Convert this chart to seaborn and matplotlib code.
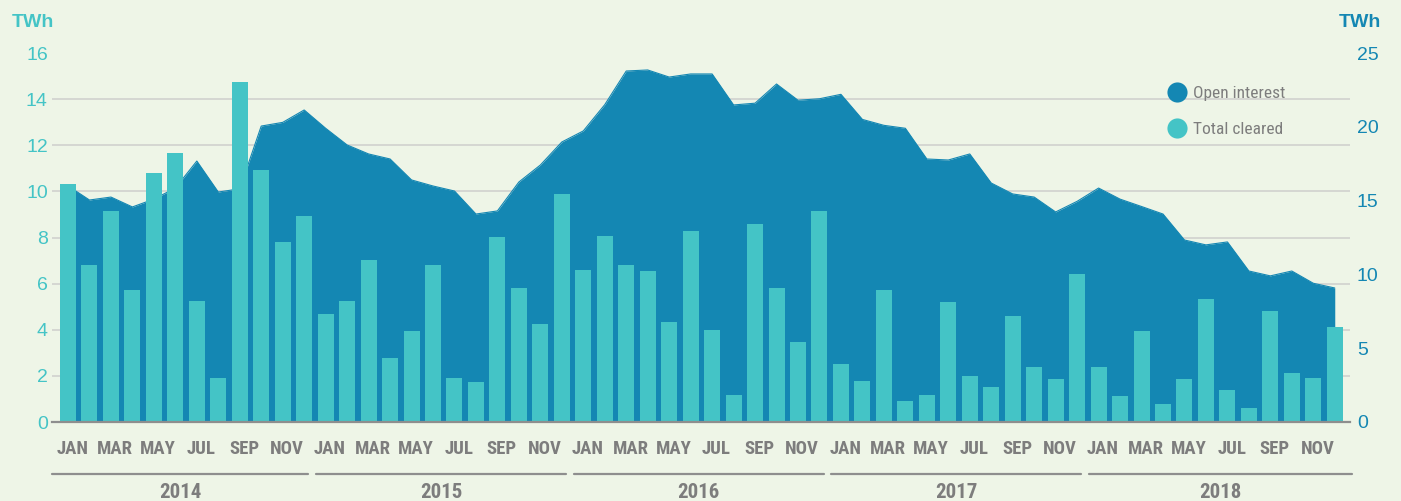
import numpy as np
import pandas as pd
import matplotlib
matplotlib.use("Agg")
import matplotlib.pyplot as plt
import seaborn as sns
from matplotlib import font_manager
from matplotlib.lines import Line2D
from matplotlib.ticker import FixedLocator

# ---- data ---------------------------------------------------------------
years = [2014, 2015, 2016, 2017, 2018]
months = ["JAN", "FEB", "MAR", "APR", "MAY", "JUN",
          "JUL", "AUG", "SEP", "OCT", "NOV", "DEC"]

# Total cleared volume per month (TWh, left axis)
cleared = [
    10.30, 6.80, 9.15, 5.72, 10.80, 11.67, 5.25, 1.91, 14.74, 10.93, 7.80, 8.93,
    4.68, 5.25, 7.03, 2.78, 3.95, 6.81, 1.91, 1.73, 8.02, 5.81, 4.25, 9.89,
    6.59, 8.07, 6.81, 6.55, 4.34, 8.28, 3.99, 1.17, 8.59, 5.81, 3.47, 9.15,
    2.52, 1.78, 5.72, 0.91, 1.17, 5.20, 1.99, 1.52, 4.60, 2.39, 1.86, 6.42,
    2.39, 1.13, 3.95, 0.78, 1.86, 5.33, 1.39, 0.61, 4.81, 2.12, 1.91, 4.12,
]

# Open interest at month end (TWh, right axis)
open_interest = [
    16.00, 15.04, 15.24, 14.57, 15.10, 15.85, 17.68, 15.58, 15.80, 20.05, 20.30, 21.14,
    19.90, 18.77, 18.16, 17.82, 16.40, 15.99, 15.65, 14.09, 14.30, 16.26, 17.41, 18.97,
    19.72, 21.50, 23.78, 23.85, 23.37, 23.58, 23.58, 21.48, 21.60, 22.90, 21.80, 21.90,
    22.20, 20.50, 20.10, 19.90, 17.82, 17.75, 18.16, 16.19, 15.45, 15.24, 14.23, 14.95,
    15.85, 15.10, 14.60, 14.09, 12.33, 12.00, 12.20, 10.23, 9.90, 10.23, 9.40, 9.08,
]

left_ticks = [0, 2, 4, 6, 8, 10, 12, 14, 16]
right_ticks = [0, 5, 10, 15, 20, 25]

# ---- style --------------------------------------------------------------
BG = "#eef5e7"
AREA = "#1487b3"
BAR = "#44c4c6"
GREY = "#7d7d7d"
GRID = "#d5d7d2"
RULE = "#8e8e8e"


def pick_font(*names):
    available = {f.name for f in font_manager.fontManager.ttflist}
    for name in names:
        if name in available:
            return name
    return "DejaVu Sans"


NARROW = pick_font("Liberation Sans Narrow", "DejaVu Sans Condensed",
                   "Roboto Condensed", "Liberation Sans")
SANS = pick_font("Liberation Sans", "DejaVu Sans")

sns.set_theme(style="white")
plt.rcParams["font.family"] = [SANS, "DejaVu Sans"]

df = pd.DataFrame({
    "idx": np.arange(len(cleared)),
    "month": months * len(years),
    "year": np.repeat(years, 12),
    "cleared": cleared,
    "open_interest": open_interest,
})

W, H = 1401, 501
fig = plt.figure(figsize=(W / 100, H / 100), dpi=100, facecolor=BG)
left_px, right_px, top_px, bottom_px = 52, 1350, 53, 422
ax_oi = fig.add_axes([left_px / W, 1 - bottom_px / H,
                      (right_px - left_px) / W, (bottom_px - top_px) / H])
ax_oi.set_facecolor(BG)
ax_bar = ax_oi.twinx()
ax_bar.patch.set_visible(False)

# open interest as a filled area behind the bars
sns.lineplot(data=df, x="idx", y="open_interest", ax=ax_oi,
             color=AREA, linewidth=0.8)
ax_oi.fill_between(df["idx"], df["open_interest"], color=AREA, linewidth=0)

# monthly cleared volume as bars
sns.barplot(data=df, x="idx", y="cleared", ax=ax_bar, color=BAR,
            saturation=1, width=0.745, linewidth=0)

XMIN, XMAX = -0.745, 59.71
ax_oi.set_ylim(0, 25)
ax_bar.set_ylim(0, 16)

# y axes: bars on the left, open interest on the right
ax_bar.yaxis.tick_left()
ax_oi.yaxis.tick_right()
ax_bar.set_yticks(left_ticks)
ax_oi.set_yticks(right_ticks)
ax_bar.tick_params(axis="y", length=0, pad=3, labelsize=14, labelcolor=BAR)
ax_oi.tick_params(axis="y", length=0, pad=5, labelsize=14, labelcolor=AREA)

# horizontal grid follows the left scale, kept under the area
ax_oi.yaxis.set_minor_locator(FixedLocator([v * 25 / 16 for v in left_ticks[1:]]))
ax_oi.tick_params(axis="y", which="minor", length=0)
ax_oi.grid(False)
ax_oi.grid(which="minor", axis="y", color=GRID, linewidth=1.4)
ax_oi.set_axisbelow(True)

for ax in (ax_oi, ax_bar):
    ax.set_xlabel("")
    ax.set_ylabel("")
    for s in ax.spines.values():
        s.set_visible(False)
ax_bar.spines["bottom"].set_visible(True)
ax_bar.spines["bottom"].set_color(RULE)
ax_bar.spines["bottom"].set_linewidth(1.6)

# month labels every other month (shared x axis lives on the base axes),
# nudged a little to the right of the bar centre
ax_oi.xaxis.set_visible(True)
ax_oi.set_xticks(np.arange(0, len(cleared), 2) + 0.2)
ax_oi.set_xticklabels(list(df["month"][::2]),
                      fontdict={"family": NARROW, "weight": "bold"})
ax_oi.tick_params(axis="x", length=0, pad=13, labelsize=13.5,
                  labelcolor=GREY, labelbottom=True)

# year brackets under the month labels
trans = ax_bar.get_xaxis_transform()
for k, yr in enumerate(years):
    x0 = XMIN if k == 0 else 12 * k - 0.45
    x1 = 59.8 if k == len(years) - 1 else 12 * k + 11.2
    ax_bar.add_line(Line2D([x0, x1], [-0.141, -0.141], transform=trans,
                           clip_on=False, color=RULE, linewidth=1.6))
    ax_bar.text((x0 + x1) / 2, -0.166, str(yr), transform=trans,
                ha="center", va="top", fontsize=15, fontweight="bold",
                family=NARROW, color=GREY)

ax_oi.set_xlim(XMIN, XMAX)
ax_bar.set_xlim(XMIN, XMAX)

# unit labels
fig.text(12 / W, 1 - 27 / H, "TWh", ha="left", va="baseline",
         fontsize=14, fontweight="bold", color=BAR)
fig.text(1381 / W, 1 - 27 / H, "TWh", ha="right", va="baseline",
         fontsize=14, fontweight="bold", color=AREA)

# legend
handles = [
    Line2D([], [], marker="o", linestyle="", markersize=14.5,
           markerfacecolor=AREA, markeredgewidth=0, label="Open interest"),
    Line2D([], [], marker="o", linestyle="", markersize=14.5,
           markerfacecolor=BAR, markeredgewidth=0, label="Total cleared"),
]
ax_bar.legend(handles=handles, loc="upper left",
              bbox_to_anchor=(1168 / W, 1 - 86 / H),
              bbox_transform=fig.transFigure, frameon=False,
              prop={"family": NARROW, "size": 12.5}, labelcolor=GREY,
              handlelength=1.0, handletextpad=0.42, labelspacing=1.21,
              borderpad=0, borderaxespad=0)

fig.savefig("out.png", dpi=100, facecolor=BG)
